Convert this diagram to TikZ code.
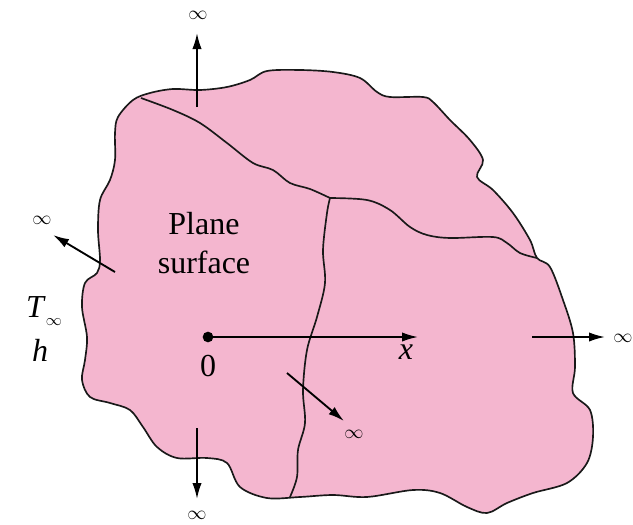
\documentclass[tikz,border=0pt]{standalone}
\usepackage{fontspec}
\setmainfont{Liberation Serif}
\usetikzlibrary{arrows.meta}
\definecolor{slab}{RGB}{244,182,207}
\tikzset{
  outline/.style={draw=black!90, line width=1.25pt, line join=round},
  arr/.style={draw=black, line width=1.4pt, -{Latex[length=12pt,width=7pt]}},
  inf/.style={font=\fontsize{14}{16}\selectfont, inner sep=0pt},
  big/.style={font=\fontsize{24}{27}\selectfont, inner sep=0pt}
}
\begin{document}
\begin{tikzpicture}[x=0.75pt,y=-0.75pt]
\useasboundingbox (0,0) rectangle (633,525);
% body
\filldraw[outline, fill=slab] plot[smooth cycle, tension=0.55] coordinates {
(118,117)(133,100)(150,93)(173,89)(200,90)(227,87)(250,80)(267,71)(300,70)(333,72)(360,78)(377,92)(390,97)(423,97)(433,102)(450,120)(470,140)(483,160)(477,177)(493,190)(513,213)(530,240)(537,258)(550,267)(563,300)(573,333)(575,367)(573,393)(590,410)(593,437)(587,463)(567,483)(533,493)(507,503)(487,513)(467,507)(440,493)(413,490)(367,497)(333,495)(300,497)(267,498)(240,487)(227,463)(207,458)(177,458)(157,447)(143,427)(130,410)(110,403)(90,397)(82,380)(85,360)(87,337)(82,307)(85,283)(97,273)(100,260)(98,230)(100,200)(110,180)(115,160)(115,133)};
% inner boundaries
\draw[outline] plot[smooth, tension=0.55] coordinates {
(141,98)(173,110)(200,123)(227,143)(253,163)(273,170)(290,183)(310,189)(330,198)};
\draw[outline] plot[smooth, tension=0.55] coordinates {
(330,198)(327,213)(323,250)(325,283)(317,317)(307,350)(303,390)(305,423)(298,450)(297,477)(290,497)};
\draw[outline] plot[smooth, tension=0.55] coordinates {
(330,198)(367,200)(390,210)(410,227)(427,235)(450,238)(493,237)(507,243)(520,253)(537,258)};
% coordinates
\coordinate (topS) at (197,107);  \coordinate (topE) at (197,33);
\coordinate (leftS) at (115,272); \coordinate (leftE) at (53,235);
\coordinate (botS) at (197,428);  \coordinate (botE) at (197,499);
\coordinate (diagS) at (287,373); \coordinate (diagE) at (344,421);
\coordinate (rightS) at (532,337);\coordinate (rightE) at (605,337);
\coordinate (xE) at (418,337);
% labels
\node[inf] (itop) at (198,15) {$\infty$};
\node[inf] (ileft) at (42,220) {$\infty$};
\node[inf] (ibot) at (197,515) {$\infty$};
\node[inf] (idiag) at (354,434) {$\infty$};
\node[inf, anchor=west] (iright) at (613,338) {$\infty$};
\node[big] (plane) at (204,224) {Plane};
\node[big] (surf) at (204,262) {surface};
\node[big] (Tinf) at (44,311) {\textit{T}\raisebox{-6pt}{\fontsize{13}{14}\selectfont$\infty$}};
\node[big] (hh) at (40,350) {\textit{h}};
\node[fill=black, circle, inner sep=0pt, minimum size=8pt] (O) at (208,337) {};
\node[big] (zero) at (208,366) {0};
\node[big] (xl) at (406,352) {\textit{x}};
% arrows
\draw[arr] (topS) -- (topE);
\draw[arr] (leftS) -- (leftE);
\draw[arr] (botS) -- (botE);
\draw[arr] (diagS) -- (diagE);
\draw[arr] (rightS) -- (rightE);
\draw[arr] (O.center) -- (xE);
\end{tikzpicture}
\end{document}
